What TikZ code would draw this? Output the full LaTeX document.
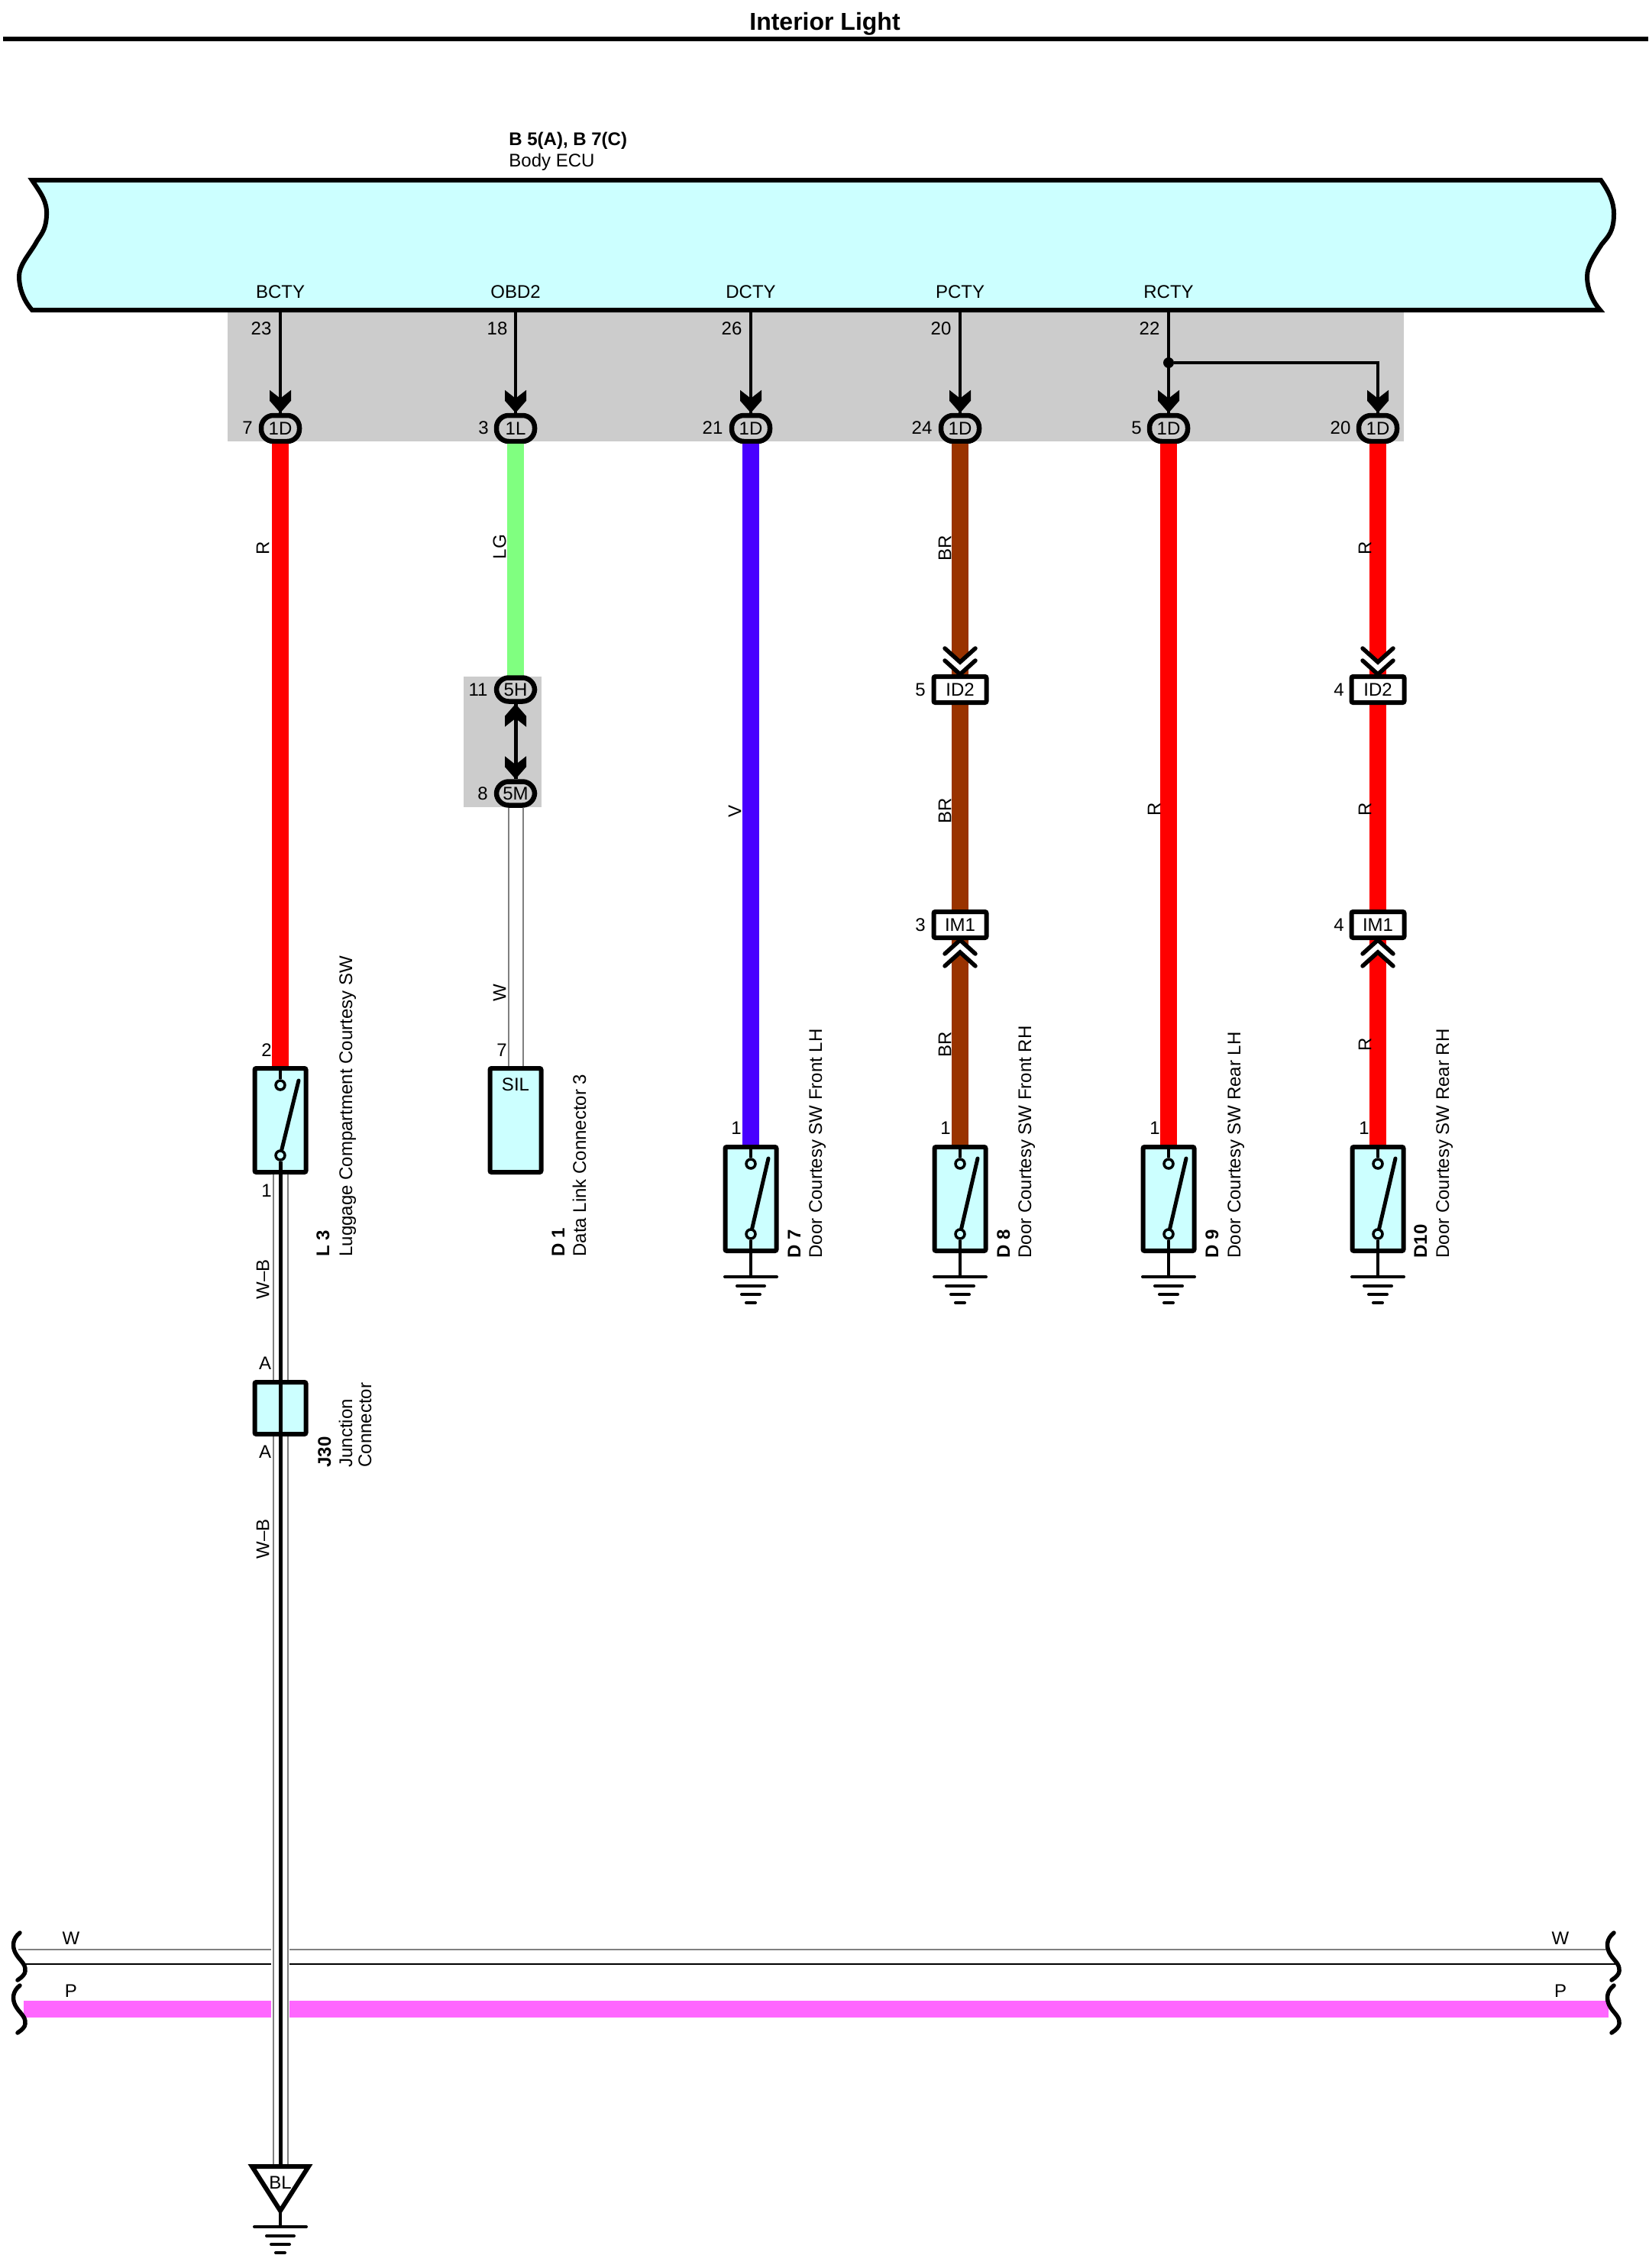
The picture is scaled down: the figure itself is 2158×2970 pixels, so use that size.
\documentclass[tikz,border=0pt]{standalone}
\usepackage{fontspec}
\setmainfont{Liberation Sans}
\usetikzlibrary{shapes.geometric, positioning, calc}

\definecolor{bodyblue}{HTML}{CCFFFF}
\definecolor{bandgray}{HTML}{CCCCCC}
\definecolor{wireR}{HTML}{FF0000}
\definecolor{wireLG}{HTML}{80FF80}
\definecolor{wireV}{HTML}{4800FF}
\definecolor{wireBR}{HTML}{993300}
\definecolor{wireP}{HTML}{FF66FF}
\definecolor{wireW}{HTML}{808080}

\tikzstyle{txt} = [inner sep=0pt, font=\fontsize{12}{14}\selectfont]
\tikzstyle{wirelbl} = [txt, rotate=90]
\tikzstyle{partid} = [txt, rotate=90, anchor=base west, font=\fontsize{12}{14}\selectfont\bfseries]
\tikzstyle{partname} = [txt, rotate=90, anchor=base west]
\tikzstyle{oval} = [draw, fill=bandgray, line width=3.25pt, rounded corners=8pt, minimum width=25pt, minimum height=17pt, inner sep=0pt, font=\fontsize{12}{14}\selectfont]
\tikzstyle{inline} = [draw, fill=white, line width=3pt, rounded corners=1pt, minimum width=34.5pt, minimum height=17pt, inner sep=0pt, font=\fontsize{12}{14}\selectfont]
\tikzstyle{swbox} = [draw, fill=bodyblue, line width=3pt, rounded corners=1pt, minimum width=33.5pt, inner sep=0pt]
\tikzstyle{contact} = [circle, draw, fill=bodyblue, line width=1.75pt, minimum size=6pt, inner sep=0pt]
\tikzstyle{sig} = [line width=2pt]
\tikzstyle{blade} = [line width=2.5pt, line cap=round]
\tikzstyle{wire} = [line width=11pt]
\tikzstyle{thinwire} = [line width=1pt, double=white, double distance=8.5pt, draw=wireW]

\newcommand{\tipdown}[1]{\fill (#1) +(-14,-30) -- +(0,-19) -- +(14,-30) -- +(14,-16) -- +(0,0) -- +(-14,-16) -- cycle;}
\newcommand{\tipup}[1]{\fill (#1) +(-14,30) -- +(0,19) -- +(14,30) -- +(14,16) -- +(0,0) -- +(-14,16) -- cycle;}
\newcommand{\chevdown}[1]{\fill[white] (#1) +(-20,-34) -- +(0,-16) -- +(20,-34) -- +(20,-18) -- +(0,0) -- +(-20,-18) -- cycle;
  \draw[line width=2.75pt, line cap=round] (#1) +(-20,-34) -- +(0,-16) -- +(20,-34) +(-20,-18) -- +(0,0) -- +(20,-18);}
\newcommand{\chevup}[1]{\fill[white] (#1) +(-20,34) -- +(0,16) -- +(20,34) -- +(20,18) -- +(0,0) -- +(-20,18) -- cycle;
  \draw[line width=2.75pt, line cap=round] (#1) +(-20,34) -- +(0,16) -- +(20,34) +(-20,18) -- +(0,0) -- +(20,18);}
\newcommand{\gndbars}[1]{\draw[line width=2pt, line cap=round] (#1) +(-34,0) -- +(34,0) +(-18,12) -- +(18,12) +(-12,23) -- +(12,23) +(-6,34) -- +(6,34);}
\newcommand{\bracecurve}[1]{\draw[line width=2.75pt, line cap=round, shift={(#1)}] (0,0) .. controls (-10,8) and (-10,18) .. (-6,26) .. controls (-1,36) and (8,40) .. (7,50) .. controls (7,54) and (3,58) .. (-3,62);}

\begin{document}
\begin{tikzpicture}[x=0.5pt, y=-0.5pt]
        \useasboundingbox (0,0) rectangle (2158,2970);

        % Title
        \node[txt, font=\fontsize{16}{18}\selectfont\bfseries] (title) at (1080,31) {Interior Light};
        \coordinate (ruleL) at (4,51);
        \coordinate (ruleR) at (2158,51);
        \draw[line width=3pt] (ruleL) -- (ruleR);

        % Gray bands
        \fill[bandgray] (298,406) rectangle (1838,578);
        \fill[bandgray] (607,886) rectangle (709,1057);

        % Body ECU
        \node[txt, anchor=west, font=\fontsize{12}{14}\selectfont\bfseries] (ecuid) at (666,184) {B 5(A), B 7(C)};
        \node[txt, anchor=west] (ecuname) at (666,212) {Body ECU};
        \draw[fill=bodyblue, line width=3pt, line join=miter]
          (42,236) .. controls (54,254) and (62,264) .. (61,282) .. controls (60,304) and (52,308) .. (46,320)
          .. controls (36,336) and (25,348) .. (25,362) .. controls (25,380) and (33,396) .. (42,406)
          -- (2095,406) .. controls (2086,396) and (2078,380) .. (2078,362) .. controls (2078,348) and (2088,334) .. (2097,320)
          .. controls (2105,310) and (2113,304) .. (2113,280) .. controls (2113,264) and (2106,250) .. (2096,236) -- cycle;

        % Signals from the ECU
        \foreach \nm/\x/\epin/\epx/\cpin/\cpx/\conn in {
          BCTY/367/23/342/7/324/1D,
          OBD2/675/18/651/3/633/1L,
          DCTY/983/26/958/21/933/1D,
          PCTY/1257/20/1232/24/1207/1D,
          RCTY/1530/22/1505/5/1488/1D
        }{
          \coordinate (e\nm) at (\x,407);
          \node[txt] (lbl\nm) at (\x,382) {\nm};
          \node[txt] (ep\nm) at (\epx,430) {\epin};
          \node[oval] (c\nm) at (\x,561) {\conn};
          \node[txt] (cp\nm) at (\cpx,560) {\cpin};
          \draw[sig] (e\nm) -- (c\nm.north);
          \tipdown{c\nm.north}
        }
        \node[oval] (cRR) at (1804,561) {1D};
        \node[txt] (cpRR) at (1755,560) {20};
        \node[circle, fill, minimum size=7pt, inner sep=0pt] (jRCTY) at (1530,475) {};
        \draw[sig] (jRCTY) -| (cRR.north);
        \tipdown{cRR.north}

        % Wires
        \draw[wire, wireR] (cBCTY.south) -- (367,1397);
        \draw[wire, wireLG] (cOBD2.south) -- (675,886);
        \draw[wire, wireV] (cDCTY.south) -- (983,1499);
        \draw[wire, wireBR] (cPCTY.south) -- (1257,1499);
        \draw[wire, wireR] (cRCTY.south) -- (1530,1499);
        \draw[wire, wireR] (cRR.south) -- (1804,1499);

        % Splice 5H / 5M
        \node[oval, minimum height=15.5pt] (c5H) at (675,903) {5H};
        \node[oval, minimum height=15.5pt] (c5M) at (675,1039) {5M};
        \node[txt] (p11) at (626,903) {11};
        \node[txt] (p8) at (632,1039) {8};
        \draw[line width=2.5pt] (c5H.south) -- (c5M.north);
        \tipup{c5H.south}
        \tipdown{c5M.north}

        % Inline connectors
        \foreach \col/\x/\pa/\pb/\px in {BR/1257/5/3/1205, RR/1804/4/4/1753}{
          \node[inline] (id\col) at (\x,903) {ID2};
          \node[inline] (im\col) at (\x,1211) {IM1};
          \node[txt] (pa\col) at (\px,903) {\pa};
          \node[txt] (pb\col) at (\px,1211) {\pb};
          \chevdown{id\col.north}
          \chevup{im\col.south}
        }

        % Horizontal wires
        \coordinate (wL) at (24,2553);
        \coordinate (wR) at (2103,2553);
        \coordinate (bL) at (33,2572);
        \coordinate (bR) at (2115,2572);
        \coordinate (pL) at (31,2631);
        \coordinate (pR) at (2106,2631);
        \draw[line width=1pt, wireW] (wL) -- (wR);
        \draw[line width=0.75pt] (bL) -- (bR);
        \draw[wire, wireP] (pL) -- (pR);
        \node[txt] (wlblL) at (93,2538) {W};
        \node[txt] (plblL) at (93,2607) {P};
        \node[txt] (wlblR) at (2043,2538) {W};
        \node[txt] (plblR) at (2043,2607) {P};
        \foreach \bx/\by in {26/2531, 26/2600, 2113/2531, 2113/2600}{
          \bracecurve{\bx,\by}
        }

        % Left-hand switch, SIL terminal, junction
        \node[swbox, minimum height=68pt] (swL3) at (367,1467) {};
        \node[swbox, minimum height=68pt] (swSIL) at (675,1467) {};
        \node[txt] (sil) at (675,1420) {SIL};
        \draw[thinwire] (c5M.south) -- (swSIL.north);
        \coordinate (blA) at (330,2837);
        \coordinate (blB) at (404,2837);
        \coordinate (blC) at (367,2895);
        \coordinate (blTop) at (367,2835);
        \draw[line width=12pt, white] (swL3.south) -- (blTop);
        \draw[thinwire] (swL3.south) -- (blTop);
        \node[swbox, minimum height=34pt] (j30) at (367,1844) {};

        % Switches
        \node[contact] (L3t) at (367,1421) {};
        \node[contact] (L3b) at (367,1513) {};
        \coordinate (L3k) at (391,1415);
        \draw[sig] (swL3.north) -- (L3t);
        \draw[blade] (L3b) -- (L3k);
        \foreach \sw/\x/\pinx/\ida/\idb/\nma/\idt/\nmt in {
          D7/983/964/1048/1076/1648/D 7/Door Courtesy SW Front LH,
          D8/1257/1238/1322/1350/1648/D 8/Door Courtesy SW Front RH,
          D9/1530/1512/1595/1624/1648/D 9/Door Courtesy SW Rear LH,
          D10/1804/1786/1868/1897/1648/D10/Door Courtesy SW Rear RH
        }{
          \node[swbox, minimum height=68pt] (sw\sw) at (\x,1570) {};
          \node[contact] (t\sw) at (\x,1524) {};
          \node[contact] (b\sw) at (\x,1616) {};
          \coordinate (k\sw) at (\x+23,1517);
          \coordinate (g\sw) at (\x,1672);
          \draw[sig] (sw\sw.north) -- (t\sw);
          \draw[blade] (b\sw) -- (k\sw);
          \draw[sig] (b\sw) -- (g\sw);
          \gndbars{g\sw}
          \node[txt] (p\sw) at (\pinx,1477) {1};
          \node[partid] (id\sw) at (\ida,\nma) {\idt};
          \node[partname] (nm\sw) at (\idb,\nma) {\nmt};
        }

        % Ground with BL
        \draw[line width=2.5pt] (L3b) -- (blTop);
        \draw[fill=white, line width=3pt] (blA) -- (blB) -- (blC) -- cycle;
        \node[txt] (bltxt) at (367,2858) {BL};
        \coordinate (gBL) at (367,2916);
        \draw[sig] (blC) -- (gBL);
        \gndbars{gBL}

        % Labels
        \node[txt] (p2) at (349,1375) {2};
        \node[txt] (p1) at (349,1559) {1};
        \node[txt] (p7) at (657,1375) {7};
        \node[txt] (aT) at (347,1785) {A};
        \node[txt] (aB) at (347,1901) {A};
        \node[partid] (idL3) at (431,1646) {L 3};
        \node[partname] (nmL3) at (461,1646) {Luggage Compartment Courtesy SW};
        \node[partid] (idD1) at (739,1646) {D 1};
        \node[partname] (nmD1) at (767,1646) {Data Link Connector 3};
        \node[partid] (idJ) at (433,1922) {J30};
        \node[partname] (nmJa) at (461,1922) {Junction};
        \node[partname] (nmJb) at (486,1922) {Connector};

        % Wire colours
        \foreach \i/\x/\y/\t in {
          1/344/718/R, 2/654/716/LG, 3/962/1062/V, 4/1237/718/BR, 5/1237/1062/BR,
          6/1237/1368/BR, 7/1511/1060/R, 8/1787/718/R, 9/1787/1060/R, 10/1787/1368/R,
          11/654/1300/W, 12/344/1675/W–B, 13/344/2015/W–B
        }{
          \node[wirelbl] (wl\i) at (\x,\y) {\t};
        }
      \end{tikzpicture}
\end{document}
